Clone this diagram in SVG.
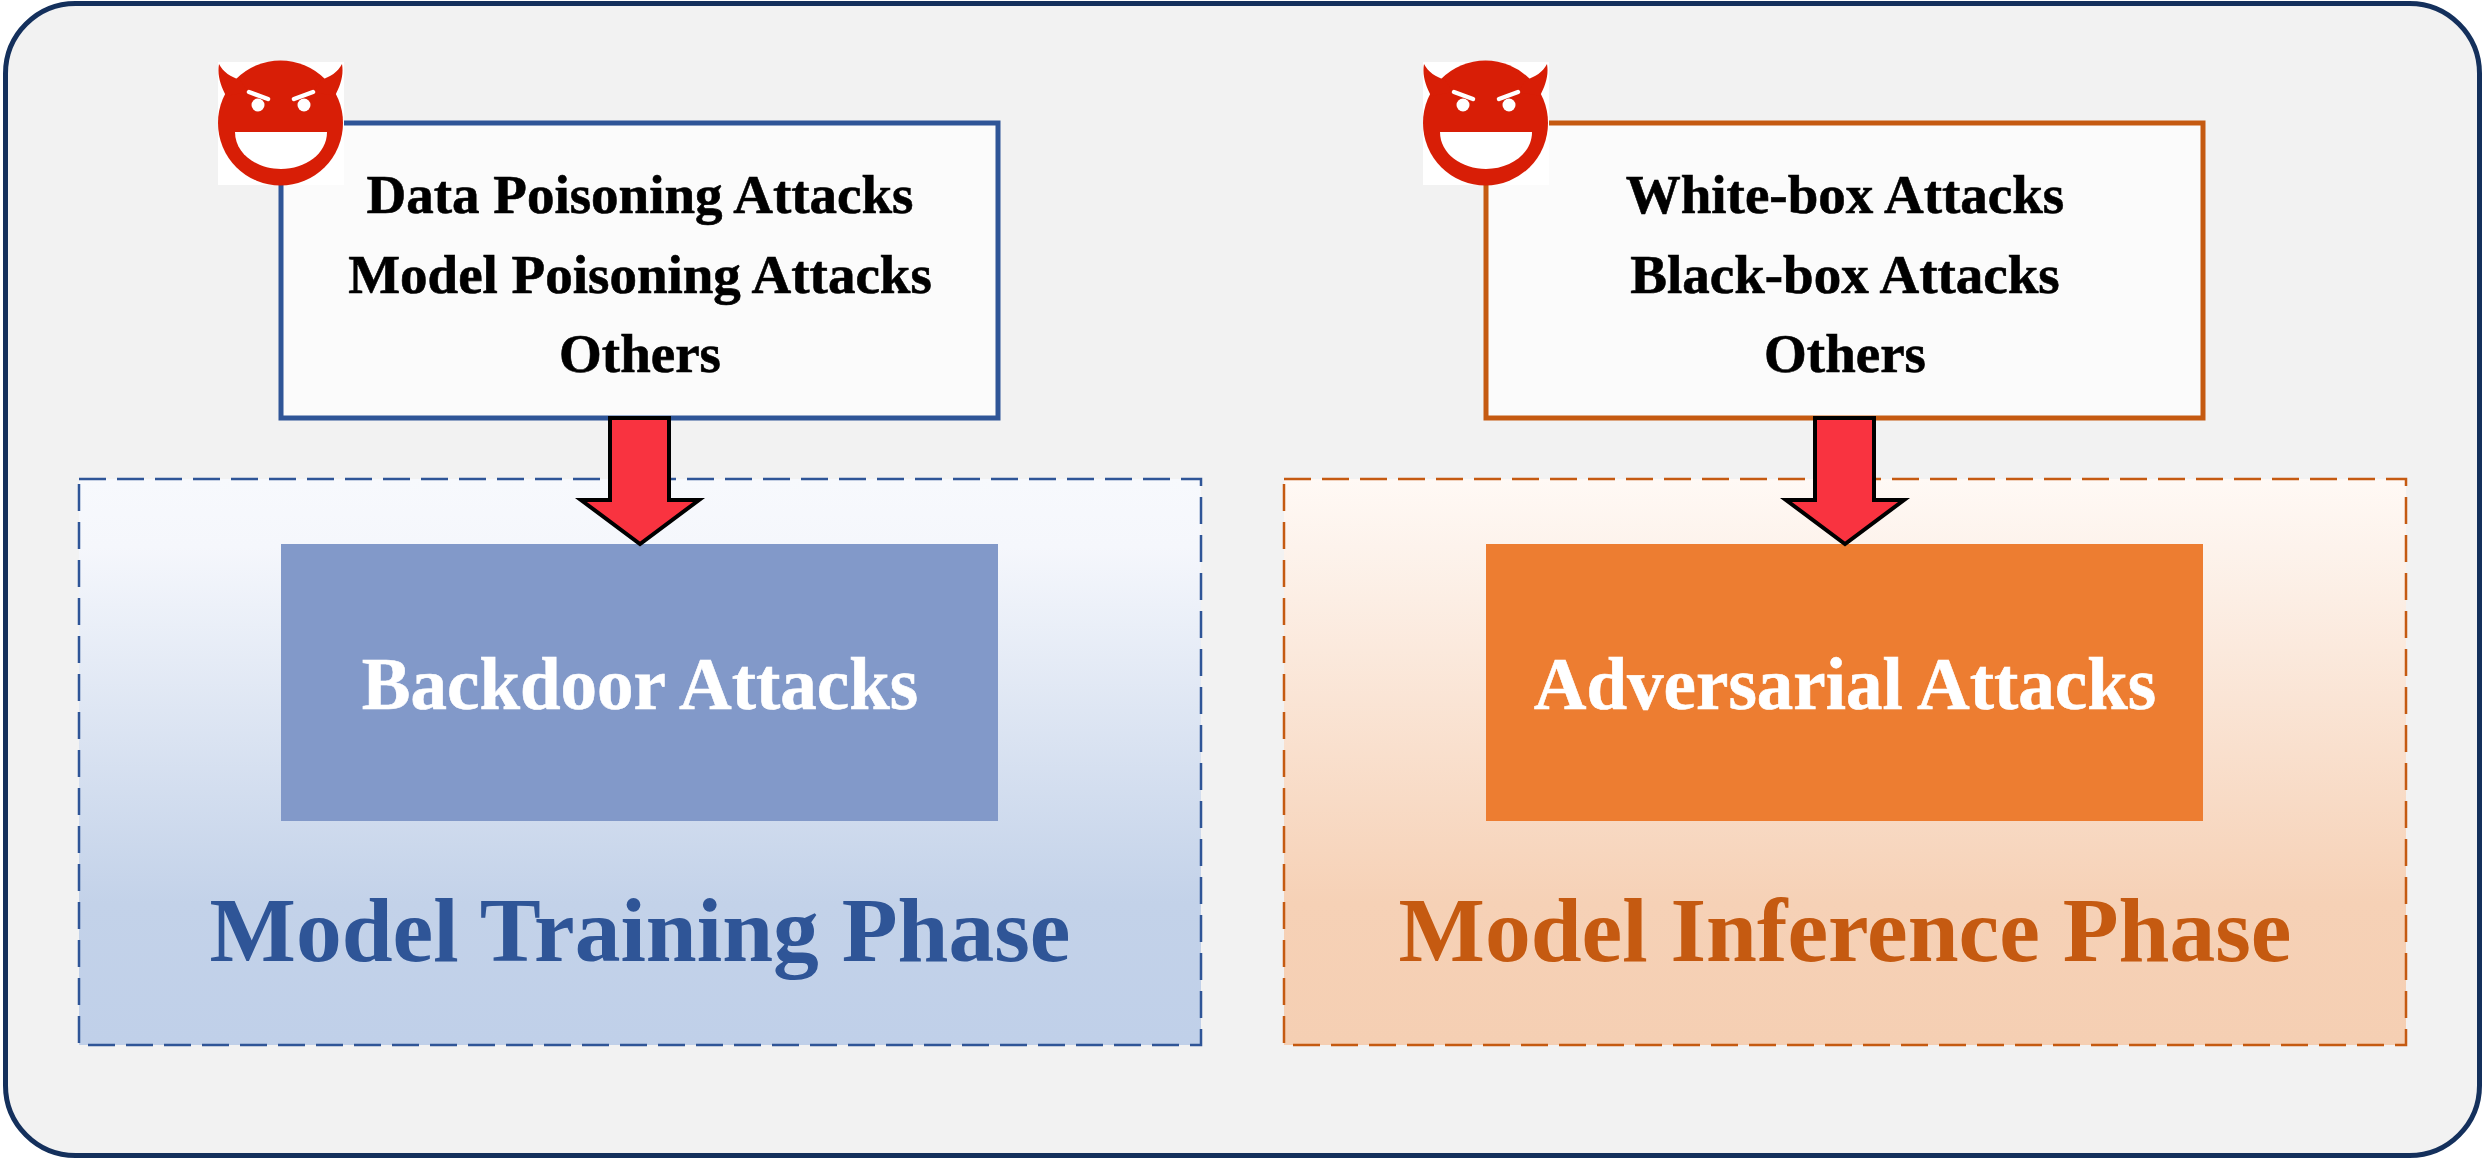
<svg xmlns="http://www.w3.org/2000/svg" width="2484" height="1159" viewBox="0 0 2484 1159">
<style>
text{font-family:"Liberation Serif","Times New Roman",serif;font-weight:700;text-anchor:middle}
.item{font-size:55px;fill:#000;stroke:#000;stroke-width:.6px}
.mid{font-size:73px;fill:#fff;stroke:#fff;stroke-width:.6px}
.phase{font-size:91.500px}
.arrow{fill:#f93340;stroke:#000;stroke-width:4;stroke-linejoin:miter}
</style>
<defs>
<linearGradient id="gb" x1="0" y1="0" x2="0" y2="1">
<stop offset="0" stop-color="#f7f9fd"/><stop offset=".12" stop-color="#f5f7fc"/><stop offset=".75" stop-color="#c3d2e9"/><stop offset="1" stop-color="#c0d0e9"/>
</linearGradient>
<linearGradient id="go" x1="0" y1="0" x2="0" y2="1">
<stop offset="0" stop-color="#fff9f5"/><stop offset=".12" stop-color="#fdf3ec"/><stop offset=".75" stop-color="#f6d1b6"/><stop offset="1" stop-color="#f5cfb3"/>
</linearGradient>
<g id="devil">
<rect x="0" y="0" width="126" height="123" fill="#fff"/>
<circle cx="62.500" cy="61" r="62.500" fill="#d81e06"/>
<path fill="#d81e06" d="M1 2C5 10 13 15 22 18L30 30L8 34C3 24 -1 14 1 2ZM124 2C120 10 112 15 103 18L95 30L117 34C122 24 126 14 124 2Z"/>
<path fill="#fff" d="M17 70H109C109 92 87 107 63 107C39 107 17 92 17 70Z"/>
<circle cx="40" cy="43" r="6.500" fill="#fff"/><circle cx="86" cy="43" r="6.500" fill="#fff"/>
<path d="M31 30L50 37M95 30L76 37" stroke="#fff" stroke-width="4.500" stroke-linecap="round" fill="none"/>
</g>
</defs>
<rect width="2484" height="1159" fill="#fff"/>
<rect id="frame" x="5.500" y="3.500" width="2474" height="1152" rx="70" fill="#f2f2f2" stroke="#14305c" stroke-width="5"/>
<g id="training-phase">
<rect x="79" y="479" width="1122" height="566" fill="url(#gb)" stroke="#2f5597" stroke-width="2.500" stroke-dasharray="27 11"/>
<text class="phase" x="640" y="961" fill="#2f5597">Model Training Phase</text>
</g>
<g id="inference-phase">
<rect x="1284" y="479" width="1122" height="566" fill="url(#go)" stroke="#c55a11" stroke-width="2.500" stroke-dasharray="27 11"/>
<text class="phase" x="1845" y="961" fill="#c55a11">Model Inference Phase</text>
</g>
<g id="backdoor">
<rect x="281" y="544" width="717" height="277" fill="#8299c9"/>
<text class="mid" x="640" y="709">Backdoor Attacks</text>
</g>
<g id="adversarial">
<rect x="1486" y="544" width="717" height="277" fill="#ed7d31"/>
<text class="mid" x="1845" y="709">Adversarial Attacks</text>
</g>
<g id="training-attacks">
<rect x="281" y="123" width="717" height="295" fill="#fbfbfb" stroke="#2f5597" stroke-width="5"/>
<use href="#devil" x="218" y="62"/>
<text class="item" x="640" y="213">Data Poisoning Attacks</text>
<text class="item" x="640" y="293">Model Poisoning Attacks</text>
<text class="item" x="640" y="372">Others</text>
</g>
<g id="inference-attacks">
<rect x="1486" y="123" width="717" height="295" fill="#fbfbfb" stroke="#c55a11" stroke-width="5"/>
<use href="#devil" x="1423" y="62"/>
<text class="item" x="1845" y="213">White-box Attacks</text>
<text class="item" x="1845" y="293">Black-box Attacks</text>
<text class="item" x="1845" y="372">Others</text>
</g>
<g id="connectors">
<path class="arrow" d="M610 418H669V500H699L640 544L581 500H610Z"/>
<path class="arrow" d="M1815 418H1874V500H1904L1845 544L1786 500H1815Z"/>
</g>
</svg>
